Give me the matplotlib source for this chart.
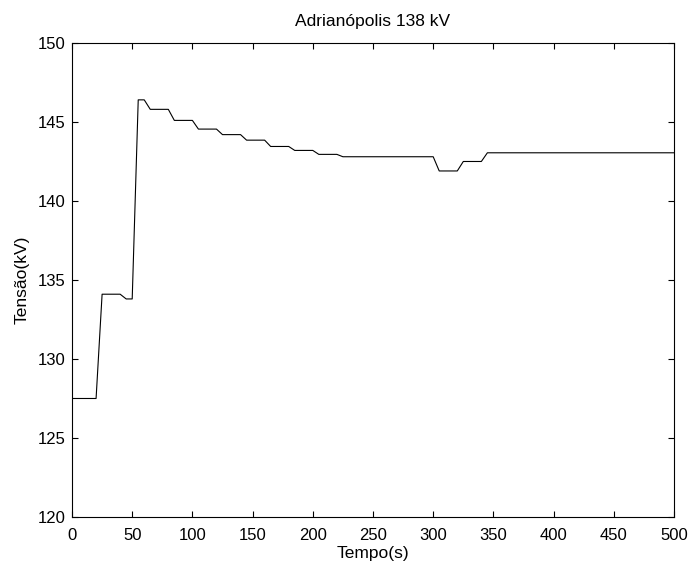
import matplotlib
matplotlib.use('Agg')
import matplotlib.pyplot as plt

plt.rcParams['font.family'] = ['Liberation Sans', 'DejaVu Sans']

# Tempo (s) e tensao (kV)
tempo = [0, 20, 25, 40, 45, 50, 55, 60, 65, 80, 85, 100, 105, 120, 125, 140, 145,
         160, 165, 180, 185, 200, 205, 220, 225, 300, 305, 320, 325, 340, 345, 500]
tensao = [127.5, 127.5, 134.1, 134.1, 133.8, 133.8, 146.4, 146.4, 145.8, 145.8,
          145.1, 145.1, 144.55, 144.55, 144.2, 144.2, 143.85, 143.85, 143.45, 143.45,
          143.2, 143.2, 142.95, 142.95, 142.8, 142.8, 141.9, 141.9, 142.5, 142.5,
          143.05, 143.05]

xticks = [0, 50, 100, 150, 200, 250, 300, 350, 400, 450, 500]
yticks = [120, 125, 130, 135, 140, 145, 150]

fig = plt.figure(figsize=(6.91, 5.67), dpi=100)
ax = fig.add_axes([0.1042, 0.0882, 0.8712, 0.836])
ax.plot(tempo, tensao, color='black', linewidth=0.8)

ax.set_xlim(0, 500)
ax.set_ylim(120, 150)
ax.set_xticks(xticks)
ax.set_yticks(yticks)
ax.tick_params(direction='in', top=True, right=True, labelsize=12, length=4, width=0.8)
ax.tick_params(axis='x', pad=8)
ax.tick_params(axis='y', pad=4.5)
for s in ax.spines.values():
    s.set_linewidth(0.8)

ax.set_title('Adrianópolis 138 kV', fontsize=12.5, pad=12)
ax.set_xlabel('Tempo(s)', fontsize=12.5, labelpad=2)
ax.set_ylabel('Tensão(kV)', fontsize=12.5, labelpad=6)

fig.savefig('out.png', dpi=100)
